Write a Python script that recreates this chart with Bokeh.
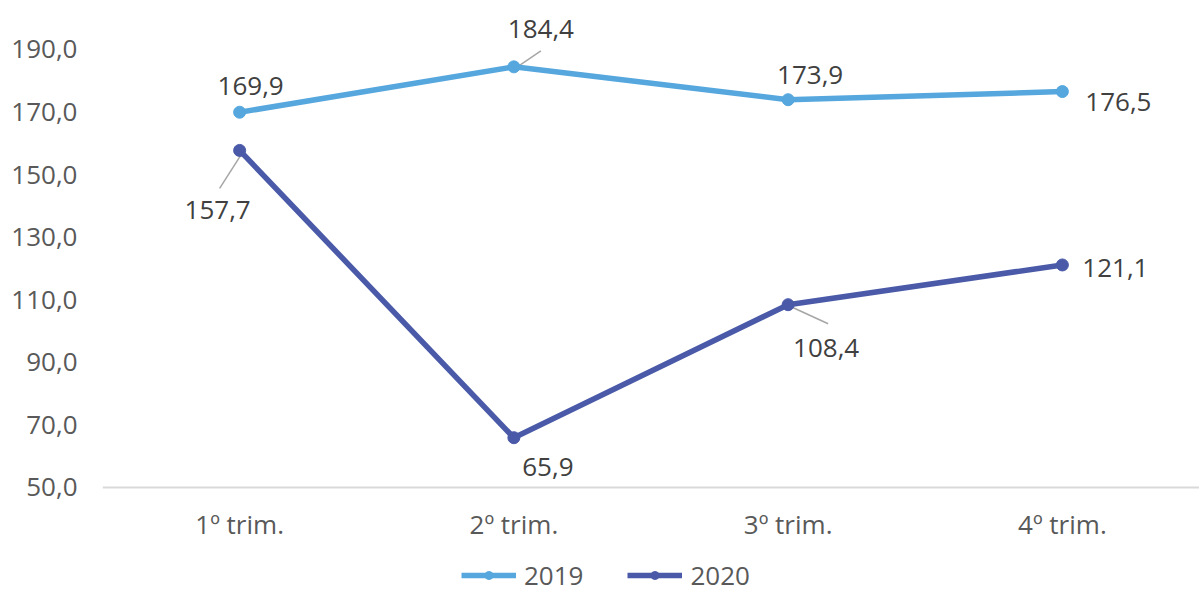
from bokeh.plotting import figure
from bokeh.models import Range1d, FixedTicker, Legend, LegendItem, ColumnDataSource
from bokeh.embed import file_html
from bokeh.resources import INLINE
from bokeh.core.properties import value

categories = ["1º trim.", "2º trim.", "3º trim.", "4º trim."]
series_names = ["2019", "2020"]
values_2019 = [169.9, 184.4, 173.9, 176.5]
values_2020 = [157.7, 65.9, 108.4, 121.1]
y_ticks = [50, 70, 90, 110, 130, 150, 170, 190]

# styles
C19 = "#55A7DE"
C20 = "#4A5AA8"
FONT = "Open Sans"
TICK_COLOR = "#595959"
LABEL_COLOR = "#404040"
FS = "26px"

W, H = 1199, 594
BL, BR, BT, BB = 102, 0, 0, 0
Y0, Y1 = 15.8, 205.6
X0, X1 = 0, len(categories)
ppx = (W - BL - BR) / (X1 - X0)
ppy = (H - BT - BB) / (Y1 - Y0)

# label offsets (px, dy downward) and leader lines
lab_off_2019 = [(11, -26), (27, -38), (22, -25), (56, 10)]
lab_off_2020 = [(-22, 60), (34, 29), (38, 43), (53, 3)]
lead_2019 = [None, ((2, 1), (27, -16)), None, None]
lead_2020 = [((3, 2), (-20, 38)), None, ((3, 2), (40, 19)), None]

p = figure(width=W, height=H, output_backend="svg", toolbar_location=None,
           x_range=Range1d(X0, X1), y_range=Range1d(Y0, Y1),
           min_border_left=BL, min_border_right=BR, min_border_top=BT, min_border_bottom=BB)
p.outline_line_color = None
p.xgrid.grid_line_color = None
p.ygrid.grid_line_color = None
p.background_fill_color = "white"
p.border_fill_color = "white"

xs = [i + 0.5 for i in range(len(categories))]

# axes
p.yaxis.ticker = FixedTicker(ticks=y_ticks)
p.yaxis.major_label_overrides = {t: f"{t:.1f}".replace(".", ",") for t in y_ticks}
p.yaxis.axis_line_color = None
p.yaxis.major_tick_line_color = None
p.yaxis.minor_tick_line_color = None
p.yaxis.major_label_standoff = 19
p.yaxis.major_label_text_font = FONT
p.yaxis.major_label_text_font_size = FS
p.yaxis.major_label_text_color = TICK_COLOR

p.xaxis.fixed_location = y_ticks[0]
p.xaxis.ticker = FixedTicker(ticks=xs)
p.xaxis.major_label_overrides = {x: c for x, c in zip(xs, categories)}
p.xaxis.axis_line_color = "#D9D9D9"
p.xaxis.axis_line_width = 2
p.xaxis.major_tick_line_color = None
p.xaxis.minor_tick_line_color = None
p.xaxis.major_label_standoff = 13
p.xaxis.major_label_text_font = FONT
p.xaxis.major_label_text_font_size = FS
p.xaxis.major_label_text_color = TICK_COLOR

items = []
for name, vals, col, loff, leads in [("2019", values_2019, C19, lab_off_2019, lead_2019),
                                     ("2020", values_2020, C20, lab_off_2020, lead_2020)]:
    # leader lines
    sx0, sy0, sx1, sy1 = [], [], [], []
    for x, y, ld in zip(xs, vals, leads):
        if ld is None:
            continue
        (ax, ay), (bx, by) = ld
        sx0.append(x + ax / ppx); sy0.append(y - ay / ppy)
        sx1.append(x + bx / ppx); sy1.append(y - by / ppy)
    if sx0:
        p.segment(sx0, sy0, sx1, sy1, line_color="#A6A6A6", line_width=1.5)
    src = ColumnDataSource(dict(x=xs, y=vals,
                                t=[f"{v:.1f}".replace(".", ",") for v in vals],
                                dx=[o[0] for o in loff], dy=[o[1] for o in loff]))
    ln = p.line("x", "y", source=src, line_color=col, line_width=5.5)
    sc = p.scatter("x", "y", source=src, size=12, fill_color=col, line_color=col)
    p.text("x", "y", text="t", source=src, x_offset="dx", y_offset="dy",
           text_align="center", text_baseline="middle",
           text_font=value(FONT), text_font_size=FS, text_color=LABEL_COLOR)
    items.append(LegendItem(label=name, renderers=[ln, sc]))

legend = Legend(items=items, orientation="horizontal", location=(359, 1),
                label_text_font=FONT, label_text_font_size=FS, label_text_color=TICK_COLOR,
                glyph_width=55, glyph_height=20, spacing=44, label_standoff=8,
                border_line_color=None, background_fill_alpha=0, margin=0, padding=2)
p.add_layout(legend, "center")

open("out.html", "w").write(file_html(p, INLINE))
